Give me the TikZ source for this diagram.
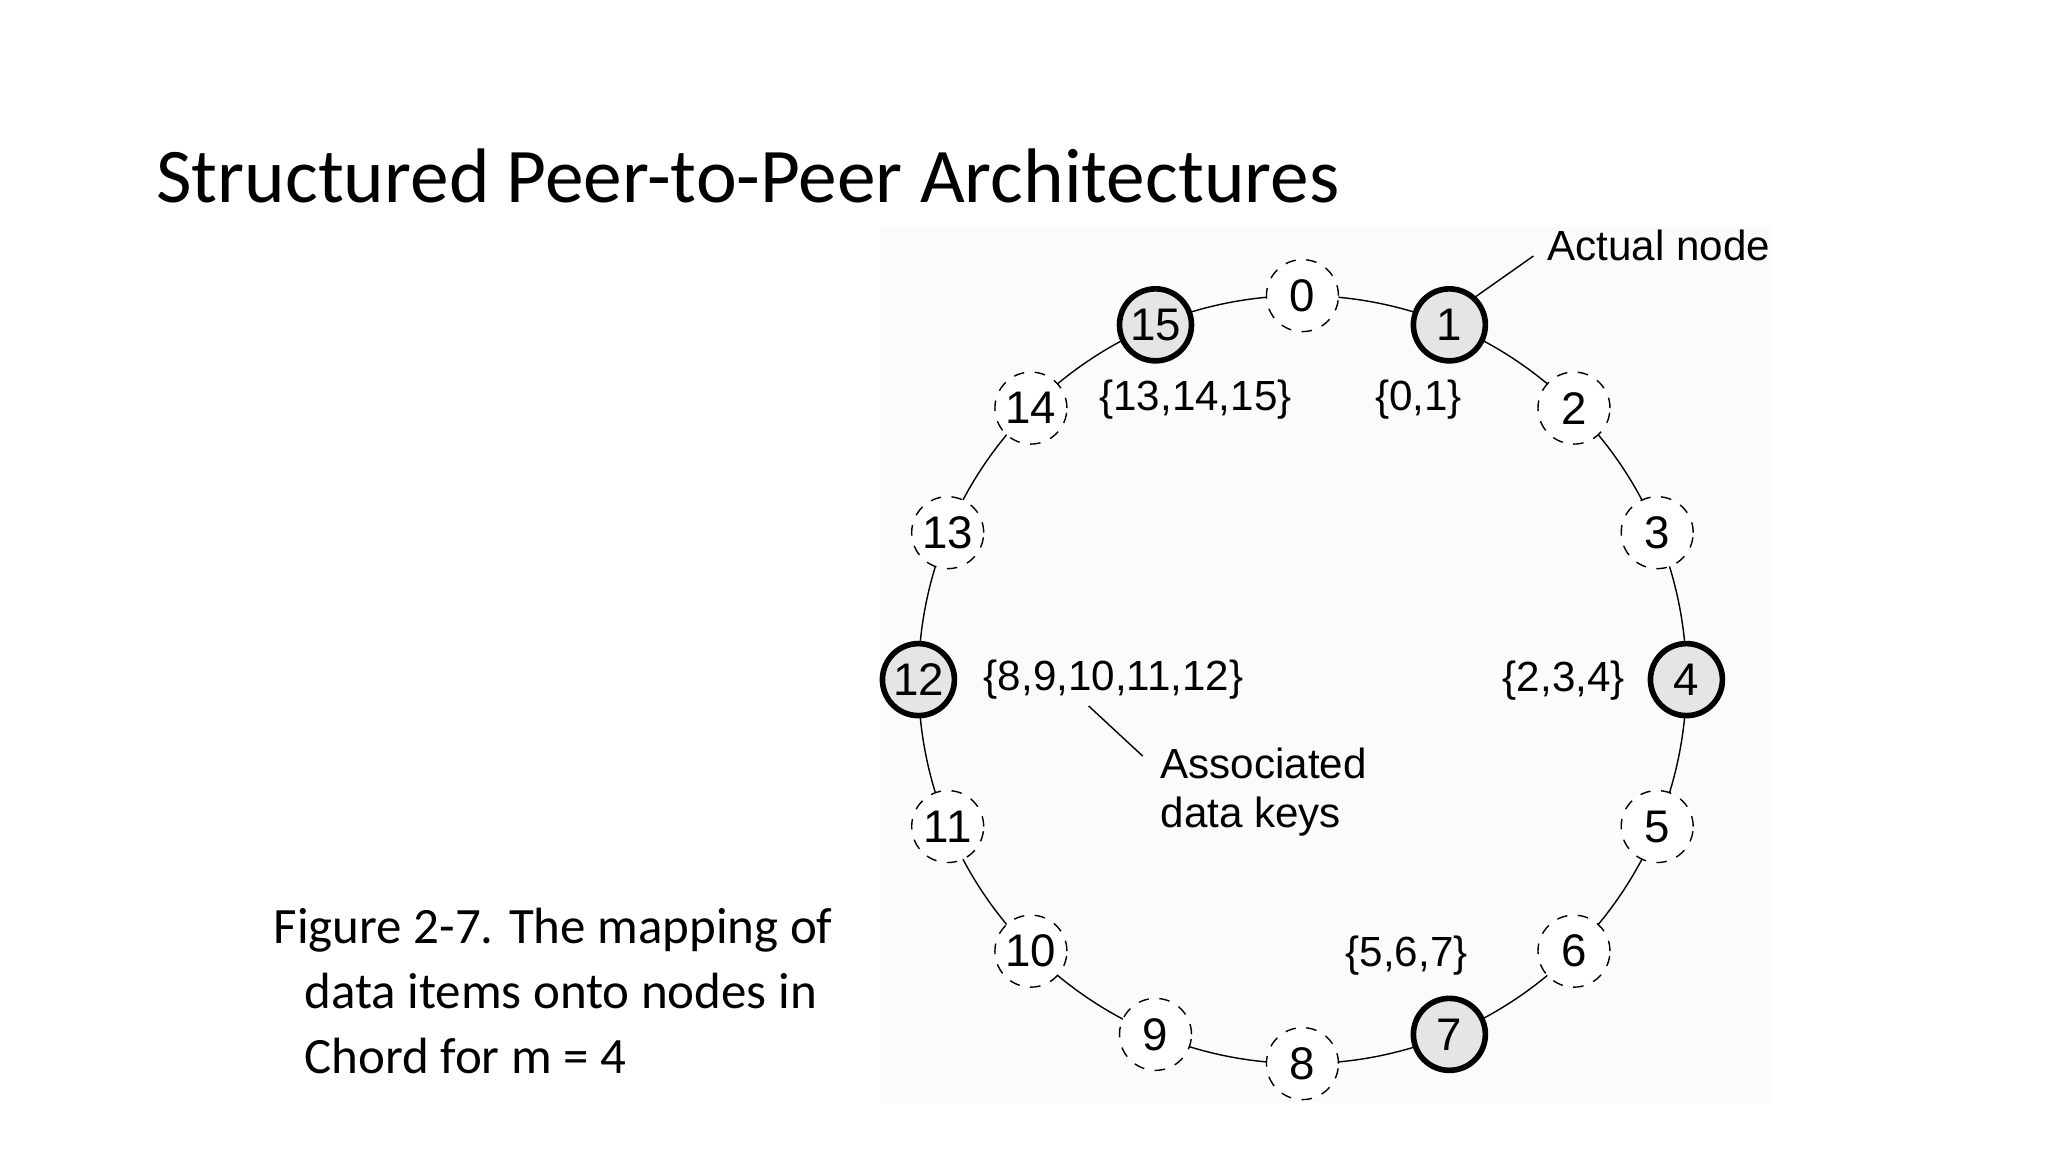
\documentclass[tikz,border=0pt]{standalone}
\usepackage{fontspec}
\setmainfont{Carlito}
\newfontfamily\diag{Liberation Sans}
\begin{document}
\begin{tikzpicture}[x=0.013196cm,y=-0.013196cm,
  ring/.style={circle,draw,minimum size=0.72cm,inner sep=0pt,fill=white,font=\diag\fontsize{13}{15}\selectfont},
  empty/.style={ring,dashed,thin},
  actual/.style={ring,line width=1.6pt,fill=gray!20},
  lab/.style={font=\diag\fontsize{12}{14}\selectfont,inner sep=0pt}]
\useasboundingbox (0,0) rectangle (1552,873);
\fill[gray!3] (667,172) rectangle (1342,836);
\node[anchor=west,font=\fontsize{22}{26}\selectfont,inner sep=0pt] (title) at (118,133) {Structured Peer-to-Peer Architectures};
\draw[thin] (987,515) circle (291);
\foreach \k in {0,2,3,5,6,8,9,10,11,13,14}
  \node[empty] (n\k) at ({987+291*cos(90-22.5*\k)},{515-291*sin(90-22.5*\k)}) {\k};
\foreach \k in {1,4,7,12,15}
  \node[actual] (n\k) at ({987+291*cos(90-22.5*\k)},{515-291*sin(90-22.5*\k)}) {\k};
\node[lab] (k15) at (906,303) {\{13,14,15\}};
\node[lab] (k1) at (1075,303) {\{0,1\}};
\node[lab,anchor=west] (k12) at (745,515) {\{8,9,10,11,12\}};
\node[lab] (k4) at (1185,516) {\{2,3,4\}};
\node[lab] (k7) at (1066,724) {\{5,6,7\}};
\node[lab] (act) at (1257,186) {Actual node};
\node[lab,anchor=west,align=left] (assoc) at (879,600) {Associated\\data keys};
\coordinate (a1) at (1118,225); \coordinate (a2) at (1162,194);
\draw[thin] (a1) -- (a2);
\coordinate (b1) at (825,535); \coordinate (b2) at (866,573);
\draw[thin] (b1) -- (b2);
\node[anchor=north west,align=left,font=\fontsize{14.5}{18.5}\selectfont,inner sep=0pt] (cap) at (207,688)
 {Figure 2-7. The mapping of\\\hspace*{0.6em}data items onto nodes in\\\hspace*{0.6em}Chord for m = 4};
\end{tikzpicture}
\end{document}
